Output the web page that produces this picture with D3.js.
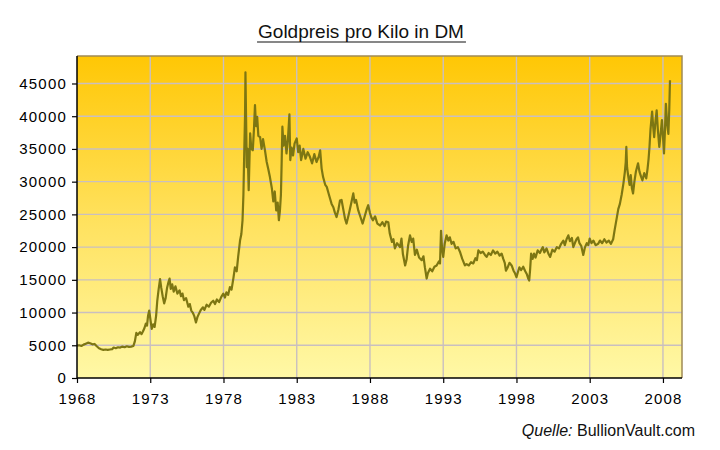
<!DOCTYPE html>
<html>
<head>
<meta charset="utf-8">
<script src="https://cdn.jsdelivr.net/npm/d3@7"></script>
<style>
  body { margin: 0; background: #fff; }
</style>
</head>
<body>
<div id="chart"></div>
<script>
// Data (decimal year, DM per kilo)
const years = [
  1968.00,1968.15,1968.30,1968.45,1968.60,1968.75,1968.90,1969.05,1969.20,1969.35,1969.50,1969.65,1969.80,1969.95,
  1970.10,1970.25,1970.40,1970.50,1970.65,1970.80,1970.95,1971.10,1971.25,1971.40,1971.55,1971.70,1971.85,1971.95,
  1972.05,1972.15,1972.30,1972.40,1972.50,1972.60,1972.70,1972.78,1972.85,1972.93,1973.02,1973.10,1973.20,1973.30,
  1973.40,1973.48,1973.57,1973.67,1973.75,1973.85,1973.95,1974.05,1974.15,1974.25,1974.32,1974.40,1974.50,1974.60,
  1974.72,1974.85,1975.00,1975.10,1975.20,1975.30,1975.45,1975.60,1975.70,1975.80,1975.90,1976.00,1976.12,1976.22,
  1976.32,1976.45,1976.60,1976.70,1976.85,1977.00,1977.15,1977.30,1977.42,1977.55,1977.70,1977.85,1977.99,1978.10,
  1978.20,1978.32,1978.44,1978.55,1978.68,1978.78,1978.90,1979.00,1979.13,1979.22,1979.30,1979.36,1979.42,1979.47,
  1979.50,1979.54,1979.59,1979.65,1979.72,1979.77,1979.82,1979.90,1980.00,1980.08,1980.15,1980.22,1980.30,1980.38,
  1980.50,1980.60,1980.70,1980.83,1980.95,1981.05,1981.17,1981.30,1981.40,1981.50,1981.60,1981.70,1981.78,1981.85,
  1981.92,1981.97,1982.02,1982.10,1982.20,1982.30,1982.40,1982.50,1982.56,1982.65,1982.75,1982.85,1983.00,1983.10,
  1983.20,1983.30,1983.45,1983.60,1983.75,1983.90,1984.05,1984.20,1984.35,1984.50,1984.60,1984.70,1984.80,1984.95,
  1985.05,1985.20,1985.38,1985.50,1985.60,1985.72,1985.85,1985.95,1986.06,1986.20,1986.30,1986.40,1986.55,1986.70,
  1986.86,1986.95,1987.05,1987.20,1987.35,1987.50,1987.65,1987.78,1987.88,1988.00,1988.10,1988.20,1988.35,1988.50,
  1988.70,1988.85,1989.00,1989.10,1989.25,1989.35,1989.50,1989.60,1989.70,1989.85,1990.05,1990.15,1990.25,1990.40,
  1990.50,1990.60,1990.73,1990.85,1990.95,1991.07,1991.20,1991.35,1991.53,1991.65,1991.75,1991.87,1991.95,1992.10,
  1992.25,1992.40,1992.55,1992.70,1992.78,1992.85,1992.92,1993.00,1993.10,1993.23,1993.35,1993.45,1993.57,1993.70,
  1993.85,1994.00,1994.14,1994.30,1994.48,1994.60,1994.75,1994.90,1995.05,1995.20,1995.30,1995.40,1995.55,1995.70,
  1995.85,1995.96,1996.10,1996.25,1996.40,1996.55,1996.70,1996.85,1996.99,1997.10,1997.20,1997.28,1997.40,1997.52,
  1997.67,1997.80,1997.90,1998.00,1998.10,1998.20,1998.32,1998.46,1998.60,1998.72,1998.80,1998.87,1998.93,1999.00,
  1999.10,1999.20,1999.30,1999.45,1999.60,1999.70,1999.80,1999.90,2000.05,2000.20,2000.30,2000.45,2000.60,2000.75,
  2000.90,2001.05,2001.20,2001.30,2001.42,2001.54,2001.65,2001.78,2001.88,2002.00,2002.10,2002.20,2002.30,2002.42,
  2002.56,2002.68,2002.80,2002.90,2003.00,2003.12,2003.25,2003.40,2003.58,2003.70,2003.85,2004.00,2004.15,2004.30,
  2004.45,2004.60,2004.70,2004.85,2004.95,2005.06,2005.18,2005.30,2005.40,2005.46,2005.50,2005.55,2005.62,2005.72,
  2005.80,2005.88,2005.96,2006.05,2006.15,2006.30,2006.40,2006.50,2006.60,2006.72,2006.86,2006.95,2007.02,2007.08,
  2007.15,2007.26,2007.33,2007.40,2007.48,2007.57,2007.65,2007.75,2007.85,2007.93,2008.00,2008.07,2008.14,2008.20,
  2008.28,2008.37,2008.43,2008.48
];
const prices = [
  4950,5000,4900,5100,5250,5400,5300,5150,5200,4850,4550,4400,4300,4350,
  4300,4350,4400,4650,4550,4700,4650,4800,4700,4850,4750,4800,4900,5600,
  6900,6600,7000,6700,7100,7600,8300,8000,9500,10300,8800,7500,8200,7800,
  9500,11800,13500,15100,13800,12500,11400,12200,13800,14700,15200,13600,14300,13200,
  14000,12900,13400,12500,12900,11900,12200,10900,11300,10300,10000,9500,8500,9300,
  9800,10400,10800,10400,11200,10900,11500,11800,11300,12000,11600,12400,12900,12300,
  13100,12700,13900,13500,15300,16900,16300,18500,21000,22000,24100,28000,34800,40000,
  46700,40000,32200,35000,28700,33000,37400,35000,34800,38000,41700,38500,39900,37000,
  36800,35000,36500,34800,33000,32000,30700,29000,27000,28500,25600,26800,24100,25500,
  28000,32800,38400,35500,37000,34300,36500,40300,33300,35200,34000,35800,36600,34500,
  35500,33300,35000,33500,34500,33800,32800,34200,33000,33800,34800,32000,30700,29500,
  29200,28000,26600,26100,25300,24600,25800,27100,27200,25500,24300,23600,25000,26500,
  28200,26800,27200,25600,24600,23600,24800,25800,26400,25200,24500,24100,24700,23600,
  23300,23800,23200,23900,23800,22100,20800,21200,19800,20600,20000,21300,18900,17200,
  18100,20200,21800,20800,21300,18800,19600,18400,18000,18600,16900,15200,16000,16700,
  16300,17000,17200,17800,17500,22500,19800,18500,20500,21800,21000,21500,20500,20800,
  19800,20000,19300,18200,17200,17400,17200,17700,17500,18300,18000,19500,19100,19300,
  18800,18500,19100,18800,19500,19000,19300,18700,19000,18200,17600,16400,16900,17600,
  17200,16400,16000,15400,16200,16900,16500,17000,16300,15800,15200,14900,16500,19000,
  18200,19000,18400,19500,19100,19600,20000,19200,19800,18900,18500,19600,19300,20000,
  19800,20500,21000,20300,21200,21800,20900,21400,20000,20700,21200,21500,20600,20200,
  18800,20000,20600,20300,21300,20600,21000,20300,20500,21000,20600,21200,20700,21000,
  20500,21200,22600,24500,25800,26600,28000,29700,31500,33000,35300,32200,31000,29500,
  31000,29000,28200,30000,31500,32800,31500,30800,30200,31300,30500,32000,33500,35300,
  38000,40700,38500,36800,39000,40900,38000,35300,37500,39400,37000,34300,38000,41900,
  39000,37300,41000,45500
];
const yearTicks = [1968, 1973, 1978, 1983, 1988, 1993, 1998, 2003, 2008];
const priceTicks = [0, 5000, 10000, 15000, 20000, 25000, 30000, 35000, 40000, 45000];

const title = "Goldpreis pro Kilo in DM";
const sourceLabel = "Quelle:";
const sourceName = "BullionVault.com";

const data = years.map((t, i) => ({ t, v: prices[i] }));

const width = 720;
const height = 450;
const margin = { top: 56, right: 38, bottom: 72, left: 77 };
const font = "Arial, 'Liberation Sans', sans-serif";

const x = d3.scaleLinear()
  .domain([1968, 2009.3])
  .range([margin.left, width - margin.right]);

const y = d3.scaleLinear()
  .domain([0, 49200])
  .range([height - margin.bottom, margin.top]);

const svg = d3.create("svg")
  .attr("width", width)
  .attr("height", height)
  .attr("viewBox", `0 0 ${width} ${height}`)
  .style("font-family", font);

// background gradient of the plot area
const grad = svg.append("defs").append("linearGradient")
  .attr("id", "bg")
  .attr("x1", 0).attr("y1", 0).attr("x2", 0).attr("y2", 1);
grad.append("stop").attr("offset", "0%").attr("stop-color", "#ffc705");
grad.append("stop").attr("offset", "50%").attr("stop-color", "#ffe15c");
grad.append("stop").attr("offset", "100%").attr("stop-color", "#fff8a6");

svg.append("rect")
  .attr("x", margin.left)
  .attr("y", margin.top)
  .attr("width", width - margin.left - margin.right)
  .attr("height", height - margin.top - margin.bottom)
  .attr("fill", "url(#bg)");

// grid
svg.append("g")
    .attr("stroke", "#c9bfc0")
    .attr("stroke-width", 1.4)
  .selectAll("line")
  .data(priceTicks.slice(1))
  .join("line")
    .attr("x1", margin.left)
    .attr("x2", width - margin.right)
    .attr("y1", d => y(d))
    .attr("y2", d => y(d));

svg.append("g")
    .attr("stroke", "#c9bfc0")
    .attr("stroke-width", 1.4)
  .selectAll("line")
  .data(yearTicks.slice(1))
  .join("line")
    .attr("x1", d => x(d))
    .attr("x2", d => x(d))
    .attr("y1", margin.top)
    .attr("y2", height - margin.bottom);

// top and right frame
svg.append("path")
  .attr("d", `M${margin.left},${margin.top}H${width - margin.right}V${height - margin.bottom}`)
  .attr("fill", "none")
  .attr("stroke", "#a08a55")
  .attr("stroke-width", 1.5);

// price line
const line = d3.line()
  .x(d => x(d.t))
  .y(d => y(d.v));

svg.append("path")
  .datum(data)
  .attr("d", line)
  .attr("fill", "none")
  .attr("stroke", "#7d7612")
  .attr("stroke-width", 2.2)
  .attr("stroke-linejoin", "round");

// axes
const yAxis = svg.append("g")
  .attr("transform", `translate(${margin.left},0)`)
  .call(d3.axisLeft(y).tickValues(priceTicks).tickSize(5).tickPadding(5).tickFormat(d3.format("d")));

const xAxis = svg.append("g")
  .attr("transform", `translate(0,${height - margin.bottom})`)
  .call(d3.axisBottom(x).tickValues(yearTicks).tickSize(5).tickPadding(10).tickFormat(d3.format("d")));

for (const ax of [yAxis, xAxis]) {
  ax.select(".domain").attr("stroke", "#000").attr("stroke-width", 1.5);
  ax.selectAll(".tick line").attr("stroke", "#000").attr("stroke-width", 1.2);
  ax.selectAll("text")
    .attr("fill", "#000")
    .style("font-size", "15px")
    .style("letter-spacing", "1.2px")
    .style("font-family", font);
}
yAxis.select(".domain").attr("d", `M0,${margin.top}V${height - margin.bottom}`);
xAxis.select(".domain").attr("d", `M${margin.left},0H${width - margin.right}`);

// title
const titleText = svg.append("text")
  .attr("x", 361)
  .attr("y", 38)
  .attr("text-anchor", "middle")
  .style("font-size", "19px")
  .attr("fill", "#111")
  .text(title);

// source
const src = svg.append("text")
  .attr("x", 695)
  .attr("y", 436)
  .attr("text-anchor", "end")
  .style("font-size", "16px")
  .attr("fill", "#111");
src.append("tspan").style("font-style", "italic").text(sourceLabel);
src.append("tspan").text(" " + sourceName);

document.getElementById("chart").appendChild(svg.node());

// underline the title under its own width
const bb = titleText.node().getBBox();
svg.append("line")
  .attr("x1", bb.x - 1)
  .attr("x2", bb.x + bb.width + 2)
  .attr("y1", 42)
  .attr("y2", 42)
  .attr("stroke", "#111")
  .attr("stroke-width", 1.2);
</script>
</body>
</html>
